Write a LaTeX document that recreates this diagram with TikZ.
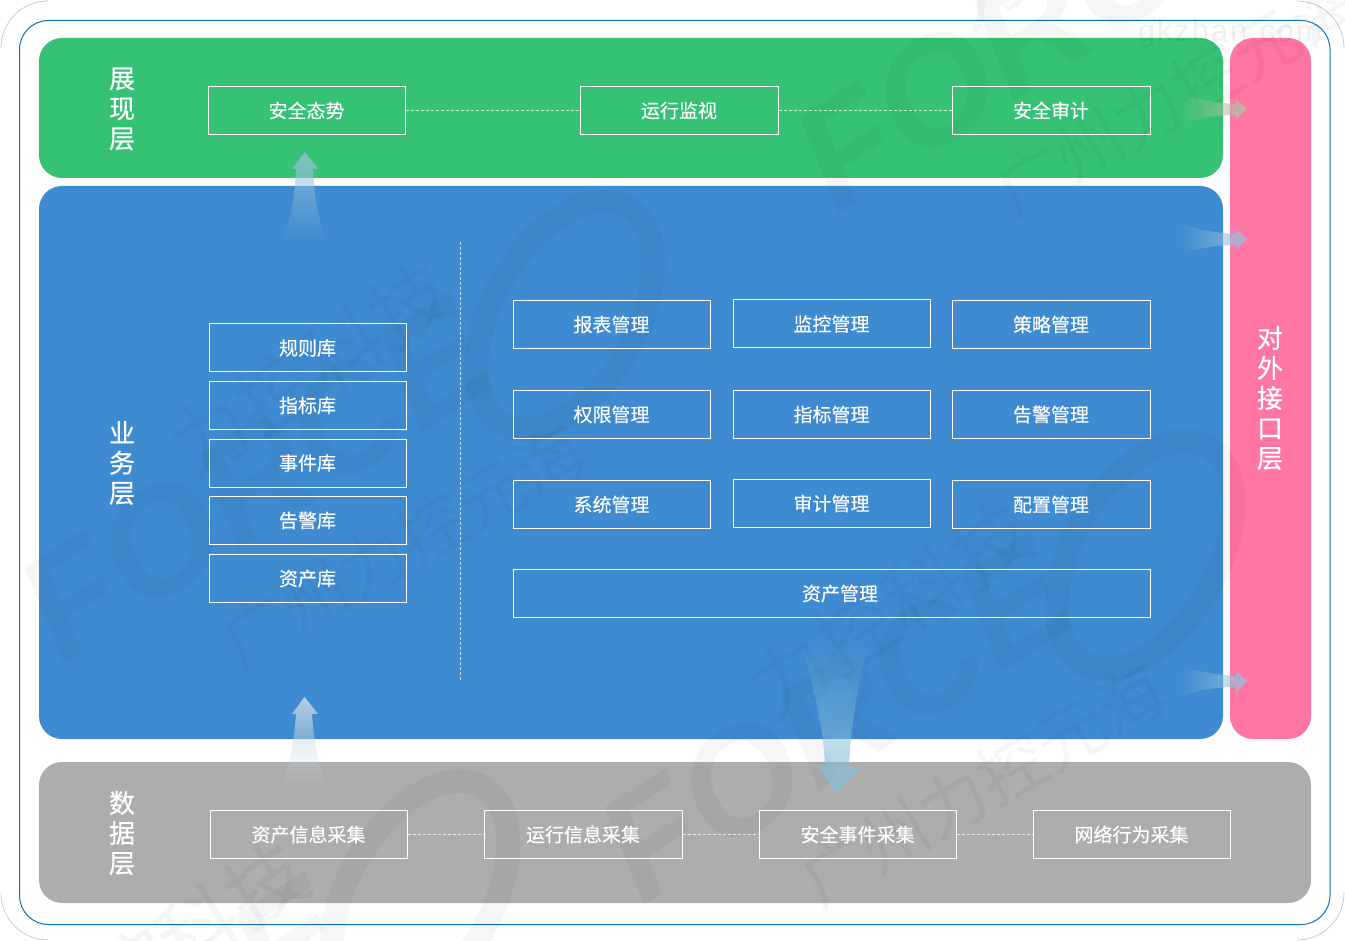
\documentclass[tikz,border=0pt]{standalone}
\usepackage{fontspec}
\setmainfont{Noto Sans CJK SC}[FakeBold=0.12]
\newfontfamily\titlefont{Noto Sans CJK SC}[FakeBold=0.45]
\newfontfamily\wmlatin{Liberation Sans}[BoldItalicFont={Liberation Sans Bold Italic}]
\newfontfamily\wmcjk{Noto Sans CJK SC}
\newfontfamily\gkfont{Liberation Sans}[LetterSpace=6]
\usetikzlibrary{fadings}
\definecolor{grn}{HTML}{35C274}
\definecolor{blu}{HTML}{3F8BD1}
\definecolor{gry}{HTML}{ADADAD}
\definecolor{pnk}{HTML}{FF75A3}
\definecolor{edge}{HTML}{0B72C4}
\definecolor{arrup}{HTML}{98C0DC}
\definecolor{arrw}{HTML}{CCD9E2}
\definecolor{arrdn}{HTML}{88BFD8}
\definecolor{arrg}{HTML}{B5C0A5}
\definecolor{arrb}{HTML}{96C0DC}
\tikzfading[name=fup, top color=transparent!0, middle color=transparent!15, bottom color=transparent!100]
\tikzfading[name=fdown, bottom color=transparent!0, middle color=transparent!20, top color=transparent!100]
\tikzfading[name=fright, right color=transparent!0, middle color=transparent!12, left color=transparent!100]
\tikzset{
  panel/.style={rounded corners=23pt, fill=#1, draw=none},
  bx/.style={draw=white, line width=1pt, fill=none, text=white, inner sep=0pt, minimum height=48pt,
    font=\fontsize{19}{19}\selectfont, anchor=center},
  lay/.style={text=white, align=center, font=\titlefont\fontsize{26}{30}\selectfont, inner sep=0pt},
  link/.style={draw=white, opacity=.75, line width=.7pt, dash pattern=on 3pt off 2pt},
  wmk/.style={text=black, opacity=.035, inner sep=0pt},
  corner/.style={gray!50, line width=.6pt},
}
\newcommand{\wmgroup}[2]{%
  \begin{scope}[shift={(#1,#2)}]
    \node[wmk, rotate=33, font=\wmlatin\bfseries\itshape\fontsize{150}{150}\selectfont] at (0,0) {FORCE};
    \node[wmk, rotate=33, font=\wmcjk\fontsize{80}{80}\selectfont] at (55,-110) {力控科技};
    \node[wmk, rotate=30, font=\wmcjk\fontsize{68}{68}\selectfont] at (148,65) {广州力控元海};
    \draw[black, opacity=.035, line width=24pt, rotate around={60:(310,-165)}] (310,-165) ellipse (125pt and 72pt);
  \end{scope}}
\begin{document}
\begin{tikzpicture}[x=1pt,y=-1pt]
\useasboundingbox (0,0) rectangle (1345,941);
\clip (0,0) rectangle (1345,941);
\fill[white] (0,0) rectangle (1345,941);
% outer frames
\draw[corner] (1,48) arc[start angle=180,end angle=90,radius=47pt];
\draw[corner] (1297,1) arc[start angle=90,end angle=0,radius=47pt];
\draw[corner] (1,893) arc[start angle=180,end angle=270,radius=47pt];
\draw[corner] (1344,893) arc[start angle=0,end angle=-90,radius=47pt];
\draw[edge, line width=1pt, rounded corners=29pt] (19.5,20.5) rectangle (1330,924.5);
% panels
\path[panel=grn] (39,38) rectangle (1223,178);
\path[panel=blu] (39,186) rectangle (1223,739);
\path[panel=gry] (39,762) rectangle (1311,903);
\path[panel=pnk] (1230,38) rectangle (1311,739);
% watermark
\wmgroup{255}{480}
\wmgroup{835}{720}
\wmgroup{1030}{30}
\wmgroup{110}{1060}
\node[wmk, opacity=.06, font=\gkfont\fontsize{31}{31}\selectfont] (gk) at (1230,33) {gkzhan.com};
% layer titles
\node[lay] (t1) at (122,109) {展\\现\\层};
\node[lay] (t2) at (122,463) {业\\务\\层};
\node[lay] (t3) at (122,833) {数\\据\\层};
\node[lay] (t4) at (1270,398) {对\\外\\接\\口\\层};
% top row
\node[bx, minimum width=197pt] (a1) at (306.5,110.5) {安全态势};
\node[bx, minimum width=198pt] (a2) at (679,110.5) {运行监视};
\node[bx, minimum width=198pt] (a3) at (1051,110.5) {安全审计};
\draw[link] (a1.east) -- (a2.west);
\draw[link] (a2.east) -- (a3.west);
% libs
\node[bx, minimum width=197pt] (l1) at (307.5,348) {规则库};
\node[bx, minimum width=197pt] (l2) at (307.5,405.5) {指标库};
\node[bx, minimum width=197pt] (l3) at (307.5,463) {事件库};
\node[bx, minimum width=197pt] (l4) at (307.5,520.5) {告警库};
\node[bx, minimum width=197pt] (l5) at (307.5,578.5) {资产库};
\coordinate (v1) at (460.5,242);
\coordinate (v2) at (460.5,680);
\draw[link] (v1) -- (v2);
% management
\node[bx, minimum width=197pt] (m11) at (611.5,324.5) {报表管理};
\node[bx, minimum width=197pt] (m12) at (831.5,324) {监控管理};
\node[bx, minimum width=198pt] (m13) at (1051,324.5) {策略管理};
\node[bx, minimum width=197pt] (m21) at (611.5,414.5) {权限管理};
\node[bx, minimum width=197pt] (m22) at (831.5,414.5) {指标管理};
\node[bx, minimum width=198pt] (m23) at (1051,414.5) {告警管理};
\node[bx, minimum width=197pt] (m31) at (611.5,504.5) {系统管理};
\node[bx, minimum width=197pt] (m32) at (831.5,503.5) {审计管理};
\node[bx, minimum width=198pt] (m33) at (1051,504.5) {配置管理};
\node[bx, minimum width=637pt] (m41) at (831.5,593.5) {\hspace*{17pt}资产管理};
% data row
\node[bx, minimum width=197pt] (d1) at (308.5,834.5) {资产信息采集};
\node[bx, minimum width=198pt] (d2) at (583,834.5) {运行信息采集};
\node[bx, minimum width=197pt] (d3) at (857.5,834.5) {安全事件采集};
\node[bx, minimum width=197pt] (d4) at (1131.5,834.5) {网络行为采集};
\draw[link] (d1.east) -- (d2.west);
\draw[link] (d2.east) -- (d3.west);
\draw[link] (d3.east) -- (d4.west);
% block arrows
\fill[arrup, opacity=.8, path fading=fup] (305,152) -- (318,169) -- (313,169) .. controls (315,205) and (320,225) .. (326,240) -- (283,240) .. controls (289,225) and (294,205) .. (296,169) -- (292,169) -- cycle;
\fill[arrw, opacity=.85, path fading=fup] (304.5,697) -- (318,714) -- (312,714) .. controls (314,745) and (320,770) .. (326,786) -- (282,786) .. controls (288,770) and (294,745) .. (296,714) -- (292,714) -- cycle;
\fill[arrdn, opacity=.8, path fading=fdown] (836,793) -- (861,768) -- (849,766) .. controls (851,720) and (860,675) .. (870,640) -- (800,640) .. controls (810,675) and (823,720) .. (825,766) -- (816,764) -- cycle;
\fill[arrg, opacity=.85, path fading=fright] (1247,109) -- (1236,119.5) -- (1236,115) .. controls (1215,115) and (1195,118) .. (1180,125) -- (1180,93) .. controls (1195,99) and (1215,103) .. (1236,104) -- (1236,99.5) -- cycle;
\fill[arrb, opacity=.85, path fading=fright] (1247,239) -- (1236,250) -- (1236,245) .. controls (1215,245) and (1195,249) .. (1180,255) -- (1180,223) .. controls (1195,229) and (1215,233) .. (1236,234) -- (1236,229.5) -- cycle;
\fill[arrb, opacity=.85, path fading=fright] (1247,681) -- (1236,692) -- (1236,687) .. controls (1215,687) and (1195,691) .. (1180,697) -- (1180,665) .. controls (1195,671) and (1215,675) .. (1236,676) -- (1236,671.5) -- cycle;
\end{tikzpicture}
\end{document}
